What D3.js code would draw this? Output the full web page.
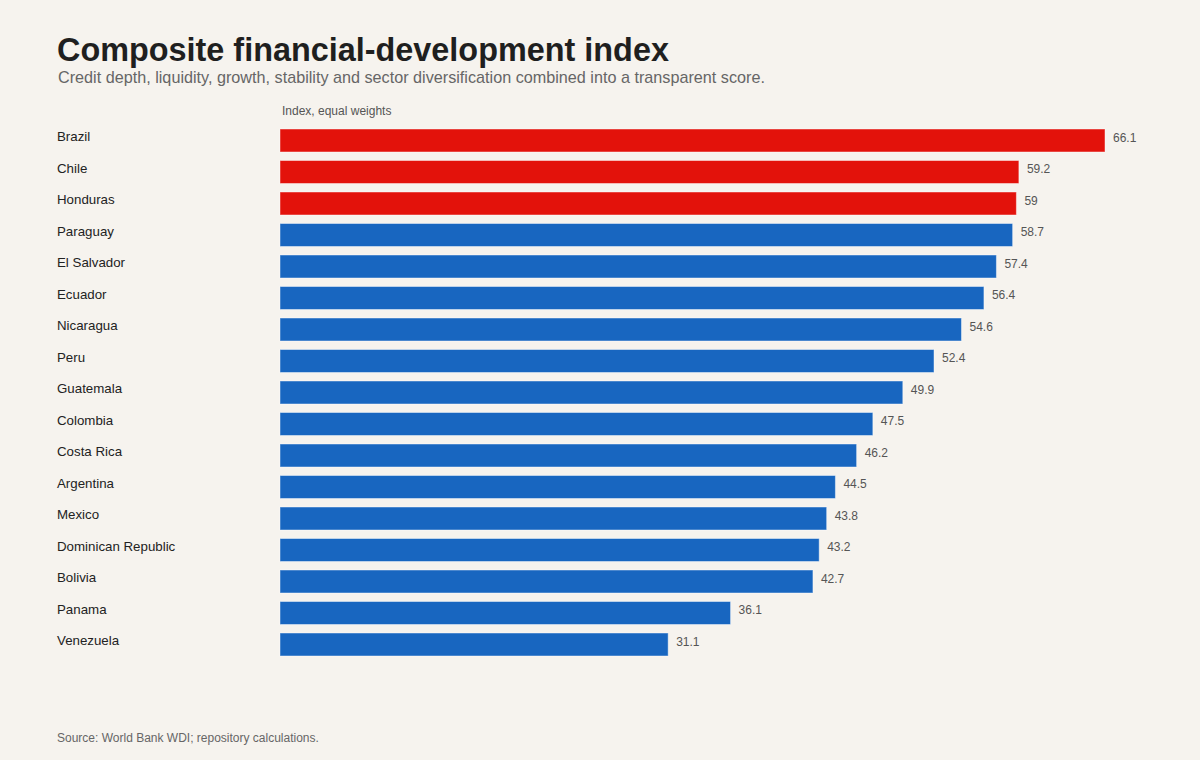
<!DOCTYPE html>
<html>
<head>
<meta charset="utf-8">
<script src="https://cdn.jsdelivr.net/npm/d3@7"></script>
<style>
  body { margin: 0; background: #f6f3ee; }
  svg { display: block; font-family: "Liberation Sans", Arial, sans-serif; }
</style>
</head>
<body>
<svg width="1200" height="760"></svg>
<script>
const countries = ['Brazil', 'Chile', 'Honduras', 'Paraguay', 'El Salvador', 'Ecuador',
  'Nicaragua', 'Peru', 'Guatemala', 'Colombia', 'Costa Rica', 'Argentina', 'Mexico',
  'Dominican Republic', 'Bolivia', 'Panama', 'Venezuela'];
const scores = [66.1, 59.2, 59, 58.7, 57.4, 56.4, 54.6, 52.4, 49.9, 47.5, 46.2, 44.5,
  43.8, 43.2, 42.7, 36.1, 31.1];
const highlighted = ['Brazil', 'Chile', 'Honduras'];

const svg = d3.select('svg');

svg.append('rect')
    .attr('width', 1200)
    .attr('height', 760)
    .attr('fill', '#f6f3ee');

svg.append('text')
    .attr('x', 57)
    .attr('y', 61)
    .attr('font-size', 32.4)
    .attr('font-weight', 'bold')
    .attr('fill', '#1f1f1f')
    .text('Composite financial-development index');

svg.append('text')
    .attr('x', 58)
    .attr('y', 83)
    .attr('font-size', 16.2)
    .attr('fill', '#666')
    .text('Credit depth, liquidity, growth, stability and sector diversification combined into a transparent score.');

svg.append('text')
    .attr('x', 282)
    .attr('y', 115)
    .attr('font-size', 12)
    .attr('fill', '#555')
    .text('Index, equal weights');

const x = d3.scaleLinear()
    .domain([0, d3.max(scores)])
    .range([280, 1105]);

const y = d3.scaleBand()
    .domain(countries)
    .range([129, 656])
    .paddingInner(0.27)
    .paddingOuter(0);

const data = countries.map((c, i) => ({country: c, value: scores[i]}));

const rows = svg.append('g')
    .selectAll('g')
    .data(data)
    .enter()
    .append('g');

rows.append('rect')
    .attr('x', x(0))
    .attr('y', d => y(d.country))
    .attr('width', d => x(d.value) - x(0))
    .attr('height', y.bandwidth())
    .attr('fill', d => highlighted.includes(d.country) ? '#e3120b' : '#1866c0')
    .attr('stroke', 'rgba(255,255,255,0.45)')
    .attr('stroke-width', 1);

rows.append('text')
    .attr('x', 57)
    .attr('y', d => y(d.country) + y.bandwidth() / 2 - 4)
    .attr('dy', '0.35em')
    .attr('font-size', 13.3)
    .attr('fill', '#222')
    .text(d => d.country);

rows.append('text')
    .attr('x', d => x(d.value) + 8)
    .attr('y', d => y(d.country) + y.bandwidth() / 2 - 3)
    .attr('dy', '0.35em')
    .attr('font-size', 12)
    .attr('fill', '#555')
    .text(d => d.value);

svg.append('text')
    .attr('x', 57)
    .attr('y', 742)
    .attr('font-size', 12)
    .attr('fill', '#666')
    .text('Source: World Bank WDI; repository calculations.');
</script>
</body>
</html>
